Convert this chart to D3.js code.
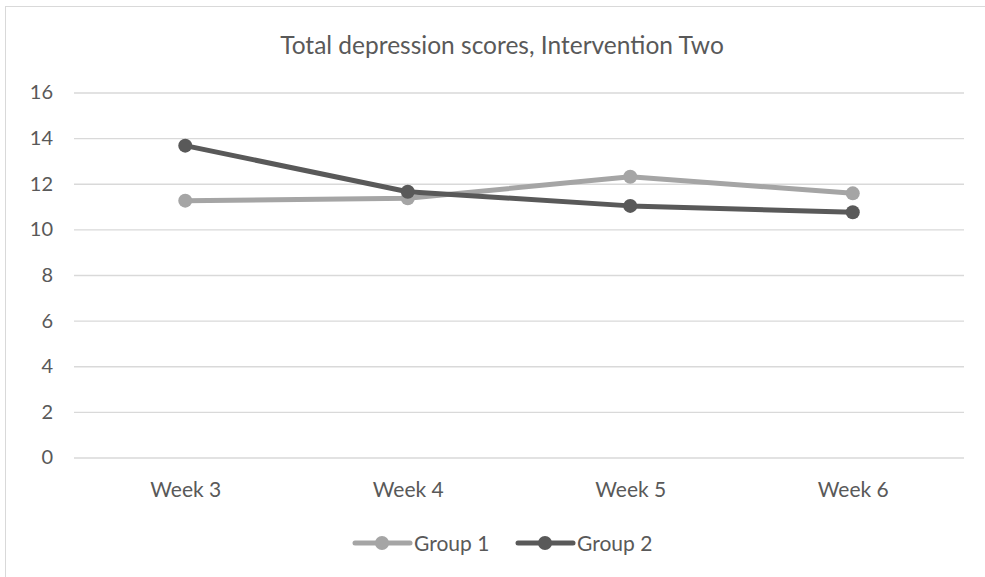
<!DOCTYPE html>
<html><head><meta charset="utf-8">
<script src="https://cdn.jsdelivr.net/npm/d3@7"></script>
<style>
body{margin:0;background:#fff;}
svg{font-family:Lato, "Open Sans", sans-serif;}
</style></head>
<body><svg id="c" width="985" height="577"></svg>
<script>
const categories = ["Week 3","Week 4","Week 5","Week 6"];
const group1 = [11.26, 11.36, 12.31, 11.58];
const group2 = [13.67, 11.65, 11.03, 10.75];
const seriesNames = ["Group 1","Group 2"];
const yTicks = [0,2,4,6,8,10,12,14,16];
const titleText = "Total depression scores, Intervention Two";

const colors = ["#A5A5A5","#595959"];
const svg = d3.select("#c");
svg.append("rect").attr("x",5.5).attr("y",6.5).attr("width",990).attr("height",590)
  .attr("fill","#fff").attr("stroke","#D9D9D9");

const pL=74, pR=964, pT=92.5, pB=457.5;
const x = d3.scalePoint().domain(categories).range([pL,pR]).padding(0.5);
const y = d3.scaleLinear().domain([0,16]).range([pB,pT]);

svg.append("text").attr("x",502).attr("y",53.5).attr("text-anchor","middle")
  .attr("font-size",24.5).attr("fill","#595959").text(titleText);

const gy = svg.append("g").attr("transform",`translate(${pL},0)`)
  .call(d3.axisLeft(y).tickValues(yTicks).tickSize(-(pR-pL)).tickFormat(d3.format("d")));
gy.select(".domain").remove();
gy.selectAll(".tick line").attr("stroke","#D9D9D9").attr("stroke-width",1.3);
gy.selectAll(".tick text").attr("x",-21).attr("fill","#595959").attr("font-size",20)
  .attr("font-family","Lato, sans-serif");

const gx = svg.append("g").attr("transform",`translate(0,${pB})`)
  .call(d3.axisBottom(x).tickSize(0));
gx.select(".domain").remove();
gx.selectAll(".tick text").attr("dy",null).attr("y",39).attr("fill","#595959").attr("font-size",21)
  .attr("font-family","Lato, sans-serif");

const data = [group1, group2];
const line = d3.line().x((d,i)=>x(categories[i])).y(d=>y(d));
data.forEach((vals,k)=>{
  svg.append("path").datum(vals).attr("d",line).attr("fill","none")
    .attr("stroke",colors[k]).attr("stroke-width",5).attr("stroke-linejoin","round");
  svg.selectAll(null).data(vals).enter().append("circle")
    .attr("cx",(d,i)=>x(categories[i])).attr("cy",d=>y(d)).attr("r",7).attr("fill",colors[k]);
});

const legX = [355, 518], legY = 543;
seriesNames.forEach((n,k)=>{
  const g = svg.append("g").attr("transform",`translate(${legX[k]},${legY})`);
  g.append("line").attr("x1",0).attr("x2",55).attr("y1",0).attr("y2",0)
    .attr("stroke",colors[k]).attr("stroke-width",5).attr("stroke-linecap","round");
  g.append("circle").attr("cx",27).attr("cy",0).attr("r",7).attr("fill",colors[k]);
  g.append("text").attr("x",59).attr("y",8).attr("font-size",21).attr("fill","#595959").text(n);
});
</script></body></html>
